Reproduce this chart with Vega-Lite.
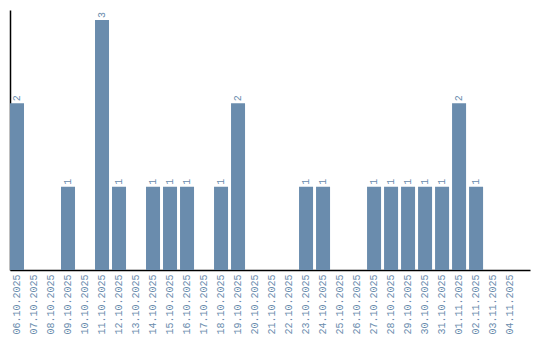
{
  "$schema": "https://vega.github.io/schema/vega-lite/v6.json",
  "width": 520,
  "height": 260,
  "autosize": "none",
  "padding": {"left": 10, "top": 10, "right": 10, "bottom": 70},
  "background": "white",
  "config": {"view": {"stroke": null}},
  "data": {"values": [
    {"date": "06.10.2025", "count": 2},
    {"date": "07.10.2025", "count": 0},
    {"date": "08.10.2025", "count": 0},
    {"date": "09.10.2025", "count": 1},
    {"date": "10.10.2025", "count": 0},
    {"date": "11.10.2025", "count": 3},
    {"date": "12.10.2025", "count": 1},
    {"date": "13.10.2025", "count": 0},
    {"date": "14.10.2025", "count": 1},
    {"date": "15.10.2025", "count": 1},
    {"date": "16.10.2025", "count": 1},
    {"date": "17.10.2025", "count": 0},
    {"date": "18.10.2025", "count": 1},
    {"date": "19.10.2025", "count": 2},
    {"date": "20.10.2025", "count": 0},
    {"date": "21.10.2025", "count": 0},
    {"date": "22.10.2025", "count": 0},
    {"date": "23.10.2025", "count": 1},
    {"date": "24.10.2025", "count": 1},
    {"date": "25.10.2025", "count": 0},
    {"date": "26.10.2025", "count": 0},
    {"date": "27.10.2025", "count": 1},
    {"date": "28.10.2025", "count": 1},
    {"date": "29.10.2025", "count": 1},
    {"date": "30.10.2025", "count": 1},
    {"date": "31.10.2025", "count": 1},
    {"date": "01.11.2025", "count": 2},
    {"date": "02.11.2025", "count": 1},
    {"date": "03.11.2025", "count": 0},
    {"date": "04.11.2025", "count": 0}
  ]},
  "encoding": {
    "x": {
      "field": "date", "type": "ordinal", "sort": null,
      "scale": {"paddingInner": 0.176, "paddingOuter": 0.38, "align": 0},
      "axis": {"title": null, "ticks": false, "labelAngle": -90, "labelPadding": 4,
        "labelFont": "Liberation Mono", "labelFontSize": 10, "labelColor": "#6a8cad",
        "domainColor": "#000000", "domainWidth": 1.5, "grid": false}
    },
    "y": {
      "field": "count", "type": "quantitative",
      "scale": {"domain": [0, 3.12], "nice": false},
      "axis": {"title": null, "ticks": false, "labels": false, "grid": false,
        "domainColor": "#000000", "domainWidth": 1.5}
    }
  },
  "layer": [
    {"mark": {"type": "bar", "color": "#6a8cad"}},
    {
      "transform": [{"filter": "datum.count > 0"}],
      "mark": {"type": "text", "angle": -90, "align": "left", "baseline": "middle", "dx": 2,
        "font": "Liberation Mono", "fontSize": 10, "color": "#6a8cad"},
      "encoding": {"text": {"field": "count", "type": "quantitative"}}
    }
  ]
}
